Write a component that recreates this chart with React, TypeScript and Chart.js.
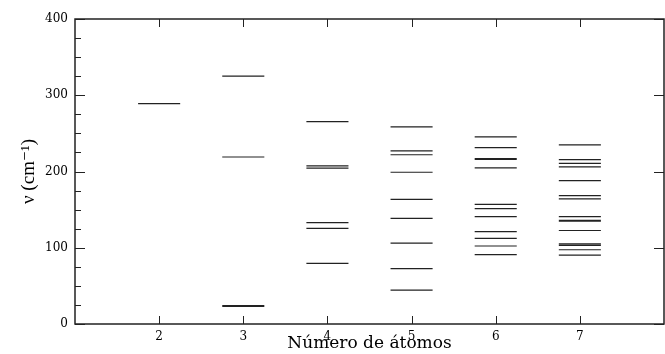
import React, { useEffect, useRef } from "react";
import { Chart, registerables } from "chart.js";

Chart.register(...registerables);

const atoms = [2, 3, 4, 5, 6, 7];
const freq2 = [289];
const freq3 = [325, 219, 24, 23];
const freq4 = [265.5, 207.5, 204.5, 133, 125.5, 79.5];
const freq5 = [258.5, 227, 222, 199, 163.5, 138.5, 106, 72.5, 44.5];
const freq6 = [245.5, 231.3, 217, 216, 204.8, 157, 151.3, 140.8, 121.1, 112.4, 102.3, 90.9];
const freq7 = [235, 215.5, 210.7, 206, 188, 168.3, 164, 140.8, 136, 135, 122.6, 105, 103, 97.4, 90.4];
const freqs = [freq2, freq3, freq4, freq5, freq6, freq7];
const xTicks = [2, 3, 4, 5, 6, 7];
const yTicks = [0, 100, 200, 300, 400];
const yMinorTicks = [25, 50, 75, 125, 150, 175, 225, 250, 275, 325, 350, 375];

const HALF = 0.25;

const frameTicks = {
  id: "frameTicks",
  afterDraw(chart: any) {
    const { ctx, chartArea } = chart;
    const { left, right, top, bottom } = chartArea;
    const xs = chart.scales.x;
    const ys = chart.scales.y;
    ctx.save();
    ctx.strokeStyle = "#222";
    ctx.lineWidth = 1.5;
    ctx.strokeRect(left, top, right - left, bottom - top);
    ctx.lineWidth = 1;
    ctx.beginPath();
    for (const v of xTicks) {
      const px = Math.round(xs.getPixelForValue(v)) + 0.5;
      ctx.moveTo(px, bottom);
      ctx.lineTo(px, bottom - 8);
      ctx.moveTo(px, top);
      ctx.lineTo(px, top + 8);
    }
    for (const v of yTicks) {
      const py = Math.round(ys.getPixelForValue(v)) + 0.5;
      ctx.moveTo(left, py);
      ctx.lineTo(left + 10, py);
      ctx.moveTo(right, py);
      ctx.lineTo(right - 10, py);
    }
    for (const v of yMinorTicks) {
      const py = Math.round(ys.getPixelForValue(v)) + 0.5;
      ctx.moveTo(left, py);
      ctx.lineTo(left + 6, py);
    }
    ctx.stroke();
    ctx.restore();
  },
};

export default function App() {
  const ref = useRef<HTMLCanvasElement>(null);
  useEffect(() => {
    const points: any[] = [];
    atoms.forEach((a, i) => {
      for (const v of freqs[i]) {
        points.push({ x: a - HALF, y: v });
        points.push({ x: a + HALF, y: v });
        points.push({ x: a, y: null });
      }
    });
    const tickFont = { family: "'DejaVu Serif', serif", size: 12 };
    const xTitleFont = { family: "'DejaVu Serif', serif", size: 17 };
    const yTitleFont = { family: "'Liberation Serif', 'DejaVu Serif', serif", size: 19 };
    const chart = new Chart(ref.current!, {
      type: "scatter",
      data: {
        datasets: [
          {
            data: points,
            showLine: true,
            spanGaps: false,
            borderColor: "#222",
            borderWidth: 1.2,
            pointRadius: 0,
            pointHoverRadius: 0,
          },
        ],
      },
      options: {
        responsive: false,
        animation: false,
        layout: { padding: { top: 19, right: 1, left: 0, bottom: 0 } },
        plugins: { legend: { display: false }, tooltip: { enabled: false } },
        scales: {
          x: {
            type: "linear",
            min: 1,
            max: 8,
            grid: { display: false, drawTicks: false },
            border: { display: false },
            ticks: { font: tickFont, color: "#000", padding: 6 },
            afterBuildTicks: (s: any) => {
              s.ticks = xTicks.map((v) => ({ value: v }));
            },
            afterFit: (s: any) => {
              s.height = 30;
            },
            title: {
              display: true,
              text: "Número de átomos",
              font: xTitleFont,
              color: "#000",
              padding: { top: 0, bottom: 0 },
            },
          },
          y: {
            type: "linear",
            min: 0,
            max: 400,
            grid: { display: false, drawTicks: false },
            border: { display: false },
            ticks: { font: tickFont, color: "#000", padding: 7, stepSize: 100 },
            afterBuildTicks: (s: any) => {
              s.ticks = yTicks.map((v) => ({ value: v }));
            },
            afterFit: (s: any) => {
              s.width = 75;
            },
            title: {
              display: true,
              text: "ν (cm⁻¹)",
              font: yTitleFont,
              color: "#000",
              padding: { top: 18, bottom: 0 },
            },
          },
        },
      },
      plugins: [frameTicks],
    });
    return () => chart.destroy();
  }, []);
  return (
    <div style={{ position: "absolute", left: 0, top: 0, width: 665, height: 354, background: "#fff" }}>
      <canvas ref={ref} width={665} height={354} />
    </div>
  );
}
